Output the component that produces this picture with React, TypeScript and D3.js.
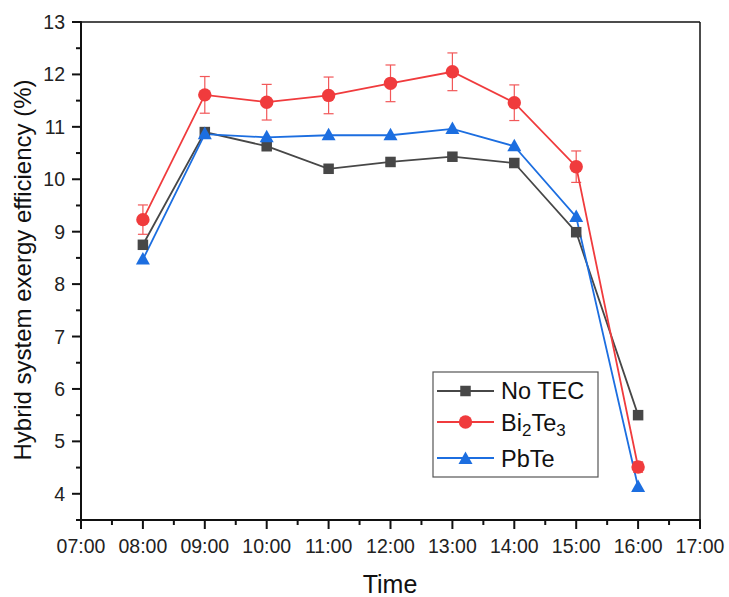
import React from "react";
import * as d3 from "d3";

const hours = [8, 9, 10, 11, 12, 13, 14, 15, 16];
const noTec = [8.75, 10.9, 10.63, 10.2, 10.33, 10.43, 10.31, 8.99, 5.5];
const bi2te3 = [9.23, 11.61, 11.47, 11.6, 11.83, 12.05, 11.46, 10.24, 4.51];
const bi2te3Err = [0.28, 0.35, 0.34, 0.35, 0.35, 0.36, 0.34, 0.3, 0.1];
const pbte = [8.47, 10.86, 10.8, 10.84, 10.84, 10.96, 10.63, 9.28, 4.13];
const xTicks = [7, 8, 9, 10, 11, 12, 13, 14, 15, 16, 17];
const yTicks = [4, 5, 6, 7, 8, 9, 10, 11, 12, 13];

const W = 729, H = 597;
const L = 81, R = 700, T = 22, B = 520;
const FONT = "'Liberation Sans', Arial, sans-serif";

const C_BLACK = "#474747";
const C_RED = "#f03b3d";
const C_BLUE = "#1c6ee0";

export default function App() {
  const x = d3.scaleLinear().domain([7, 17]).range([L, R]);
  const y = d3.scaleLinear().domain([3.5, 13]).range([B, T]);
  const line = (vals: number[]) =>
    d3.line<number>().x((_, i) => x(hours[i])).y((v) => y(v))(vals) || "";

  const fmt = (h: number) => (h < 10 ? "0" + h : "" + h) + ":00";
  const xMinor = d3.range(7.5, 17, 1);
  const yMinor = d3.range(3.5, 13, 1);

  const square = (cx: number, cy: number, key: any, s = 10.5) => (
    <rect key={key} x={cx - s / 2} y={cy - s / 2} width={s} height={s} fill={C_BLACK} />
  );
  const circle = (cx: number, cy: number, key: any, r = 6.7) => (
    <circle key={key} cx={cx} cy={cy} r={r} fill={C_RED} />
  );
  const tri = (cx: number, cy: number, key: any, s = 14) => {
    const h = s * 0.9;
    return (
      <path
        key={key}
        d={`M${cx},${cy - h * 0.6}L${cx + s / 2},${cy + h * 0.4}L${cx - s / 2},${cy + h * 0.4}Z`}
        fill={C_BLUE}
      />
    );
  };

  const legX = 433, legY = 372, legW = 165, legH = 105;
  const legRows = [
    { y: 391, color: C_BLACK, mk: "sq" },
    { y: 422, color: C_RED, mk: "ci" },
    { y: 458, color: C_BLUE, mk: "tr" },
  ];

  return (
    <svg width={W} height={H} style={{ position: "absolute", left: 0, top: 0, background: "#fff" }} fontFamily={FONT}>
      <rect width={W} height={H} fill="#fff" />
      {/* frame */}
      <line x1={L} x2={R} y1={T} y2={T} stroke="#111" strokeWidth={1.5} />
      <line x1={R} x2={R} y1={T} y2={B} stroke="#111" strokeWidth={1.5} />
      {/* y axis */}
      <line x1={L} x2={L} y1={T - 0.75} y2={B} stroke="#111" strokeWidth={2} />
      {yTicks.map((v) => (
        <g key={"yt" + v}>
          <line x1={L - 9} x2={L} y1={y(v)} y2={y(v)} stroke="#111" strokeWidth={2} />
          <text x={L - 16} y={y(v)} dy="0.36em" textAnchor="end" fontSize={19.5} fill="#222">
            {v}
          </text>
        </g>
      ))}
      {yMinor.map((v) => (
        <line key={"ym" + v} x1={L - 5} x2={L} y1={y(v)} y2={y(v)} stroke="#111" strokeWidth={2} />
      ))}
      {/* x axis */}
      <line x1={L - 1} x2={R + 0.75} y1={B} y2={B} stroke="#111" strokeWidth={2} />
      {xTicks.map((h) => (
        <g key={"xt" + h}>
          <line x1={x(h)} x2={x(h)} y1={B} y2={B + 9} stroke="#111" strokeWidth={2} />
          <text x={x(h)} y={B + 33} textAnchor="middle" fontSize={19.5} fill="#222">
            {fmt(h)}
          </text>
        </g>
      ))}
      {xMinor.map((h) => (
        <line key={"xm" + h} x1={x(h)} x2={x(h)} y1={B} y2={B + 5} stroke="#111" strokeWidth={2} />
      ))}
      {/* axis titles */}
      <text x={390} y={593} textAnchor="middle" fontSize={25} fill="#111">
        Time
      </text>
      <text
        transform={`translate(31,270) rotate(-90)`}
        textAnchor="middle"
        fontSize={24}
        fill="#111"
      >
        Hybrid system exergy efficiency (%)
      </text>

      {/* series lines */}
      <path d={line(noTec)} fill="none" stroke={C_BLACK} strokeWidth={1.8} />
      <path d={line(bi2te3)} fill="none" stroke={C_RED} strokeWidth={1.8} />
      <path d={line(pbte)} fill="none" stroke={C_BLUE} strokeWidth={1.8} />

      {/* error bars */}
      {bi2te3.map((v, i) => {
        const cx = x(hours[i]);
        const e = bi2te3Err[i];
        return (
          <g key={"eb" + i} stroke={C_RED} strokeWidth={1.2} opacity={0.85}>
            <line x1={cx} x2={cx} y1={y(v + e)} y2={y(v - e)} />
            <line x1={cx - 5} x2={cx + 5} y1={y(v + e)} y2={y(v + e)} />
            <line x1={cx - 5} x2={cx + 5} y1={y(v - e)} y2={y(v - e)} />
          </g>
        );
      })}

      {/* markers */}
      {noTec.map((v, i) => square(x(hours[i]), y(v), "sq" + i))}
      {bi2te3.map((v, i) => circle(x(hours[i]), y(v), "ci" + i))}
      {pbte.map((v, i) => tri(x(hours[i]), y(v), "tr" + i))}

      {/* legend */}
      <rect x={legX} y={legY} width={legW} height={legH} fill="#fff" stroke="#555" strokeWidth={1.2} />
      {legRows.map((r, i) => (
        <g key={"lg" + i}>
          <line x1={437} x2={494} y1={r.y} y2={r.y} stroke={r.color} strokeWidth={1.8} />
          {r.mk === "sq" ? square(465.5, r.y, "lsq") : r.mk === "ci" ? circle(465.5, r.y, "lci") : tri(465.5, r.y + 1, "ltr")}
        </g>
      ))}
      <text x={501} y={399} fontSize={23.5} fill="#111">No TEC</text>
      <text x={501} y={431} fontSize={23.5} fill="#111">
        Bi<tspan fontSize={17} dy={5}>2</tspan>
        <tspan dy={-5}>Te</tspan>
        <tspan fontSize={17} dy={5}>3</tspan>
      </text>
      <text x={501} y={467} fontSize={23.5} fill="#111">PbTe</text>
    </svg>
  );
}
